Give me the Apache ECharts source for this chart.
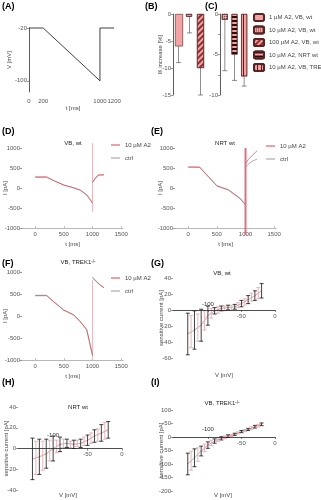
<!DOCTYPE html>
<html><head><meta charset="utf-8">
<script src="https://cdn.jsdelivr.net/npm/echarts@6/dist/echarts.min.js"></script>
<style>html,body{margin:0;padding:0;background:#fff}#c{width:321px;height:500px}</style>
</head><body><div id="c"></div>
<script>
// ---------- DATA ----------
// (A) voltage protocol
const rampT = [0, 200, 1000, 1000, 1200];
const rampV = [-20, -20, -100, -20, -20];
// (B) and (C) bar charts
const legendNames = ['1 µM A2, VB, wt', '10 µM A2, VB, wt', '100 µM A2, VB, wt', '10 µM A2, NRT wt', '10 µM A2, VB, TREK1-/-'];
const barB = [-6, -0.5, -10];
const barBErr = [3, 3, 5];
const barC = [-0.7, -5, -7.7];
const barCErr = [6.3, 3.2, 1.2];
// (D) VB wt traces
const tD = [0, 200, 320, 500, 640, 785, 900, 1000, 1000, 1000, 1050, 1100, 1200];
const drugD = [280, 280, 185, 75, 20, -50, -175, -380, null, 150, 250, 330, 330];
const ctrlD = [265, 265, 190, 70, 15, -55, -170, -370, null, 130, 235, 320, 325];
const spikeD = [1125, -600];
// (E) NRT wt traces
const tE = [0, 200, 350, 500, 700, 900, 1000, 1000, 1000, 1050, 1130, 1200];
const drugE = [530, 525, 285, 50, -50, -258, -425, null, 600, 720, 830, 930];
const ctrlE = [515, 515, 290, 60, -40, -250, -410, null, 520, 600, 680, 720];
const spikeE = [1000, -1175];
// (F) VB TREK1-/- traces
const tF = [0, 200, 320, 495, 670, 785, 900, 1000, 1000, 1000, 1035, 1134, 1200];
const drugF = [470, 470, 325, 136, 23, -129, -318, -900, null, 880, 834, 705, 640];
const ctrlF = [460, 460, 330, 140, 30, -120, -310, -880, null, 860, 820, 700, 650];
const spikeF = [820, -950];
// (G)(H)(I) I-V relations
const ivV = [-130, -120, -110, -100, -90, -80, -70, -60, -50, -40, -30, -20];
const ivV2 = [-125, -115, -105, -95, -85, -75, -65, -55, -45, -35, -25];
const gMean = [-30, -25, -19, -7, -1, 2, 3, 4, 8, 13, 18, 24];
const gErr = [26, 24, 20, 12, 4, 3, 3, 3, 4, 5, 6, 9];
const gMean2 = [-27, -22, -13, -4, 0, 2, 3, 6, 10, 16, 21];
const gErr2 = [20, 17, 12, 6, 4, 3, 3, 3, 4, 5, 7];
const hMean = [-10, -8, -5, 0, 4, 5, 4, 5, 8, 12, 15, 18];
const hErr = [20, 17, 14, 12, 7, 4, 4, 4, 5, 6, 8, 8];
const hMean2 = [-9, -7, -2, 2, 5, 4, 5, 7, 10, 13, 17];
const hErr2 = [16, 14, 10, 6, 4, 3, 3, 4, 5, 6, 8];
const iMean = [-100, -77, -52, -30, -15, -5, 3, 10, 20, 28, 38, 47];
const iErr = [40, 33, 18, 12, 8, 6, 5, 4, 4, 4, 5, 5];
const iMean2 = [-88, -65, -40, -22, -10, -1, 6, 15, 24, 33, 42];
const iErr2 = [35, 25, 14, 10, 7, 5, 4, 4, 4, 5, 5];
// tick labels
const ticksA_x = [0, 200, 1000, 1200];
const ticksA_y = [-20, -100];
const ticksB = [0, -5, -10, -15];
const ticksC = [0, -2.5, -5, -7.5, -10];
const ticksC_lab = [0, -5, -10];
const ticksTrace_x = [0, 500, 1000, 1500];
const ticksTrace_y = [-1000, -500, 0, 500, 1000];
const ticksIV_x = [-100, -50, 0];
const ticksIV_below = [-50, 0];
const ticksIV_above = [-100];
const ticksG_y = [-60, -40, -20, 0, 20, 40];
const ticksH_y = [-40, -20, 0, 20, 40];
const ticksI_y = [-200, -150, -100, -50, 0, 50, 100];

// ---------- CHART ----------
const FF = 'Liberation Sans, Arial, sans-serif';
const chart = echarts.init(document.getElementById('c'));
const zip = (xs, ys) => xs.map((x, i) => [x, ys[i] == null ? '-' : ys[i]]);
const zip3 = (xs, ys, es) => xs.map((x, i) => [x, ys[i], es[i]]);
const fmt = v => String(v);
const tickTS = { fontSize: 6, color: '#555', fontFamily: FF, formatter: fmt };
const nameTS = { fontSize: 6, color: '#444', fontFamily: FF };
const PINK = '#f2a3a3', DARK = '#5a2222';
const RED = '#d9474f', GRAY = '#9a9a9a';

const grids = [
  [29, 28, 88, 64], [173, 14, 33, 81], [220, 14, 29, 81],
  [22, 148, 101, 80], [175, 148, 101, 80], [22, 272, 101, 88],
  [173, 278, 102, 80], [18, 407, 104, 83], [173, 410, 102, 81]
];
// IV panels: grid index, x min, y min, y max, margin of the label above the zero line
const ivPanels = [[6, -152, -60, 40, 3], [7, -151, -40, 40, 10], [8, -152, -200, 100, 5]];
// helper grids whose shared edge is the zero line of each IV panel
ivPanels.forEach(p => {
  const g = grids[p[0]];
  const z = g[1] + g[3] * p[3] / (p[3] - p[2]);
  grids.push([g[0], g[1], g[2], z - g[1]]);
  grids.push([g[0], z, g[2], g[1] + g[3] - z]);
});

function yAx(g, min, max, ticks, labs, o) {
  o = o || {};
  return {
    type: 'value', gridIndex: g, min: min, max: max,
    splitLine: { show: false },
    axisLine: { show: !!o.line, onZero: false, lineStyle: { color: '#333', width: 0.8 } },
    axisTick: { show: true, length: 2, customValues: ticks, lineStyle: { color: '#555', width: 0.6 } },
    axisLabel: Object.assign({ customValues: labs || ticks, margin: 2 }, tickTS),
    name: o.name || '', nameLocation: 'middle', nameGap: o.gap || 12, nameMoveOverlap: false,
    nameTextStyle: Object.assign({}, nameTS, o.nameStyle || {})
  };
}
function xTrace(g) {
  return {
    type: 'value', gridIndex: g, min: -230, max: 1532,
    splitLine: { show: false },
    axisLine: { show: true, onZero: false, lineStyle: { color: '#999', width: 0.7 } },
    axisTick: { show: true, inside: true, length: 2, customValues: ticksTrace_x, lineStyle: { color: '#999', width: 0.6 } },
    axisLabel: Object.assign({ customValues: ticksTrace_x, margin: 3 }, tickTS),
    name: 't [ms]', nameLocation: 'middle', nameGap: 13, nameMoveOverlap: false, nameTextStyle: nameTS
  };
}
function xHidden(g, min, max) {
  return { type: 'value', gridIndex: g, min: min, max: max, show: false, splitLine: { show: false } };
}
function xZeroBelow(g, min) {
  return {
    type: 'value', gridIndex: g, min: min, max: 0, position: 'bottom', z: 10,
    splitLine: { show: false },
    axisLine: { show: true, onZero: false, lineStyle: { color: '#222', width: 0.8 } },
    axisTick: { show: true, length: 2, customValues: ticksIV_x, lineStyle: { color: '#333', width: 0.6 } },
    axisLabel: Object.assign({ customValues: ticksIV_below, margin: 3 }, tickTS)
  };
}
function xZeroAbove(g, min, m) {
  return {
    type: 'value', gridIndex: g, min: min, max: 0, position: 'top', z: 10,
    splitLine: { show: false },
    axisLine: { show: false, onZero: false }, axisTick: { show: false },
    axisLabel: Object.assign({ customValues: ticksIV_above, margin: m, hideOverlap: false }, tickTS, { color: '#333' })
  };
}
function errSeries(xi, yi, data, color, capW, oneSided, lw) {
  return {
    type: 'custom', xAxisIndex: xi, yAxisIndex: yi, data: data, z: 5, silent: true,
    renderItem: function (params, api) {
      const x = api.value(0), y = api.value(1), e = api.value(2);
      const p1 = api.coord([x, oneSided ? y : y + e]);
      const p2 = api.coord([x, y - e]);
      const st = { stroke: color, lineWidth: lw || 0.8 };
      const ch = [
        { type: 'line', shape: { x1: p1[0], y1: p1[1], x2: p2[0], y2: p2[1] }, style: st },
        { type: 'line', shape: { x1: p2[0] - capW, y1: p2[1], x2: p2[0] + capW, y2: p2[1] }, style: st }
      ];
      if (!oneSided) ch.push({ type: 'line', shape: { x1: p1[0] - capW, y1: p1[1], x2: p1[0] + capW, y2: p1[1] }, style: st });
      return { type: 'group', children: ch };
    }
  };
}
function lineS(name, xi, data, color, w, z) {
  return { type: 'line', name: name, xAxisIndex: xi, yAxisIndex: xi, data: data, symbol: 'none',
    lineStyle: { color: color, width: w }, itemStyle: { color: color }, z: z || 2, clip: false, silent: true };
}
const decals = [
  null,
  { symbol: 'rect', symbolSize: 1, dashArrayX: [1, 1], dashArrayY: [1, 1], color: 'rgba(70,15,15,0.7)' },
  { symbol: 'rect', symbolSize: 1, dashArrayX: [1, 0], dashArrayY: [1.2, 2], rotation: -Math.PI / 4, color: '#8b3030' },
  { symbol: 'rect', symbolSize: 1, dashArrayX: [1, 0], dashArrayY: [1.3, 1.7], rotation: 0, color: '#2a0a0a' },
  { symbol: 'rect', symbolSize: 1, dashArrayX: [1, 0], dashArrayY: [1, 2.4], rotation: Math.PI / 2, color: '#5a1a1a' }
];
function barS(nameIdx, xi, catIdx, val, w) {
  const d = ['-', '-', '-']; d[catIdx] = val;
  const st = { color: PINK, borderColor: DARK, borderWidth: 0.6 };
  if (decals[nameIdx]) st.decal = decals[nameIdx];
  return { type: 'bar', name: legendNames[nameIdx], xAxisIndex: xi, yAxisIndex: xi, data: d,
    barWidth: w || 6, barGap: '-100%', itemStyle: st, silent: true };
}
const sup = { fontSize: 4.5, verticalAlign: 'top', lineHeight: 6, padding: [0, 0, 3, 0], fontFamily: FF };
function txt(x, y, t, o) {
  o = o || {};
  return { type: 'text', x: x, y: y, silent: true,
    style: { text: t, fontSize: o.fs || 6, fontWeight: o.bold ? 'bold' : 'normal', fill: o.fill || '#222',
      fontFamily: FF, align: o.align || 'center', verticalAlign: o.va || 'middle',
      rich: { sup: Object.assign({}, sup, { fill: o.fill || '#222' }) } } };
}
const legTS = { fontSize: 6, color: '#444', fontFamily: FF, lineHeight: 8 };
const traceLeg = (l, t) => ({ data: ['10 µM A2', 'ctrl'], left: l, top: t, orient: 'vertical',
  icon: 'rect', itemWidth: 9, itemHeight: 1, itemGap: 5, selectedMode: false, padding: 0, textStyle: legTS });

const xAxes = [
  { type: 'value', gridIndex: 0, min: 0, max: 1240, splitLine: { show: false },
    axisLine: { show: false, onZero: false }, axisTick: { show: false },
    axisLabel: Object.assign({ customValues: ticksA_x, margin: 6 }, tickTS),
    name: 't [ms]', nameLocation: 'middle', nameGap: 13, nameMoveOverlap: false, nameTextStyle: nameTS },
  { type: 'category', gridIndex: 1, data: ['a', 'b', 'c'], show: false },
  { type: 'category', gridIndex: 2, data: ['a', 'b', 'c'], show: false },
  xTrace(3), xTrace(4), xTrace(5),
  xHidden(6, -152, 0), xHidden(7, -151, 0), xHidden(8, -152, 0)
];
const yAxes = [
  yAx(0, -117, -20, ticksA_y, null, { line: true, name: 'V [mV]', gap: 17 }),
  yAx(1, -15, 0, ticksB, null, { line: true, name: 'I{sub|K} increase [%]', gap: 10,
    nameStyle: { rich: { sub: { fontSize: 4.5, verticalAlign: 'bottom', fontFamily: FF, color: '#444' } } } }),
  yAx(2, -10, 0, ticksC, ticksC_lab, { line: true }),
  yAx(3, -1000, 1000, ticksTrace_y, null, { name: 'I [pA]', gap: 14 }),
  yAx(4, -1000, 1000, ticksTrace_y, null, { name: 'I [pA]', gap: 12 }),
  yAx(5, -1000, 1000, ticksTrace_y, null, { name: 'I [pA]', gap: 14 }),
  yAx(6, -60, 40, ticksG_y, null, { name: 'sensitive current [pA]', gap: 9 }),
  yAx(7, -40, 40, ticksH_y, null, { name: 'sensitive current [pA]', gap: 9 }),
  yAx(8, -200, 100, ticksI_y, null, { name: 'sensitive current [pA]', gap: 9 })
];
ivPanels.forEach((p, k) => {
  const gu = 9 + 2 * k, gl = 10 + 2 * k;
  xAxes.push(xZeroBelow(gu, p[1]));
  xAxes.push(xZeroAbove(gl, p[1], p[4]));
  yAxes.push({ type: 'value', gridIndex: gu, min: 0, max: 1, show: false, splitLine: { show: false } });
  yAxes.push({ type: 'value', gridIndex: gl, min: 0, max: 1, show: false, splitLine: { show: false } });
});

const option = {
  animation: false,
  grid: grids.map(g => ({ left: g[0], top: g[1], width: g[2], height: g[3], containLabel: false, outerBoundsMode: 'none' })),
  xAxis: xAxes,
  yAxis: yAxes,
  legend: [
    { data: legendNames, left: 253, top: 13, orient: 'vertical', itemWidth: 10, itemHeight: 7, itemGap: 3.5,
      selectedMode: false, padding: 0, textStyle: Object.assign({}, legTS, { rich: { sup: { fontSize: 4.5, verticalAlign: 'top', fontFamily: FF, color: '#444' } } }),
      formatter: n => n.replace('-/-', '{sup|-/-}') },
    traceLeg(111, 141), traceLeg(266, 142), traceLeg(111, 274)
  ],
  series: [
    lineS('', 0, zip(rampT, rampV), '#111', 0.8),
    barS(0, 1, 0, barB[0], 8), barS(1, 1, 1, barB[1], 6), barS(2, 1, 2, barB[2], 7),
    errSeries(1, 1, barB.map((v, i) => [i, v, barBErr[i]]), '#444', 2.5, true, 0.6),
    barS(1, 2, 0, barC[0], 6), barS(3, 2, 1, barC[1], 6), barS(4, 2, 2, barC[2], 6),
    errSeries(2, 2, barC.map((v, i) => [i, v, barCErr[i]]), '#444', 2.5, true, 0.6),
    // traces
    lineS('ctrl', 3, zip(tD, ctrlD), GRAY, 0.8, 2), lineS('10 µM A2', 3, zip(tD, drugD), RED, 0.7, 3),
    lineS('', 3, [[1000, spikeD[0]], [1000, spikeD[1]]], '#eaa6ae', 0.8, 1),
    lineS('ctrl', 4, zip(tE, ctrlE), GRAY, 0.8, 2), lineS('10 µM A2', 4, zip(tE, drugE), RED, 0.7, 3),
    lineS('', 4, [[1000, spikeE[0]], [1000, spikeE[1]]], '#e0707e', 2, 4),
    lineS('ctrl', 5, zip(tF, ctrlF), GRAY, 0.8, 2), lineS('10 µM A2', 5, zip(tF, drugF), RED, 0.7, 3),
    lineS('', 5, [[1000, spikeF[0]], [1000, spikeF[1]]], '#eaa6ae', 0.8, 1),
    // IV
    lineS('', 6, zip(ivV, gMean), '#d9a0a4', 1, 2),
    errSeries(6, 6, zip3(ivV2, gMean2, gErr2), '#e2a5ab', 2, false, 0.8),
    errSeries(6, 6, zip3(ivV, gMean, gErr), '#111', 2, false, 0.8),
    lineS('', 7, zip(ivV, hMean), '#d9a0a4', 1, 2),
    errSeries(7, 7, zip3(ivV2, hMean2, hErr2), '#e2a5ab', 2, false, 0.8),
    errSeries(7, 7, zip3(ivV, hMean, hErr), '#111', 2, false, 0.8),
    lineS('', 8, zip(ivV, iMean), '#d9a0a4', 1, 2),
    errSeries(8, 8, zip3(ivV2, iMean2, iErr2), '#e2a5ab', 2, false, 0.8),
    errSeries(8, 8, zip3(ivV, iMean, iErr), '#111', 2, false, 0.8)
  ],
  graphic: [
    txt(2, 2, '(A)', { fs: 9, bold: true, align: 'left', va: 'top', fill: '#000' }),
    txt(145, 2, '(B)', { fs: 9, bold: true, align: 'left', va: 'top', fill: '#000' }),
    txt(205, 2, '(C)', { fs: 9, bold: true, align: 'left', va: 'top', fill: '#000' }),
    txt(2, 127, '(D)', { fs: 9, bold: true, align: 'left', va: 'top', fill: '#000' }),
    txt(151, 127, '(E)', { fs: 9, bold: true, align: 'left', va: 'top', fill: '#000' }),
    txt(2, 259, '(F)', { fs: 9, bold: true, align: 'left', va: 'top', fill: '#000' }),
    txt(151, 259, '(G)', { fs: 9, bold: true, align: 'left', va: 'top', fill: '#000' }),
    txt(2, 378, '(H)', { fs: 9, bold: true, align: 'left', va: 'top', fill: '#000' }),
    txt(151, 378, '(I)', { fs: 9, bold: true, align: 'left', va: 'top', fill: '#000' }),
    txt(73, 143, 'VB, wt'),
    txt(225, 143, 'NRT wt'),
    txt(78, 262, 'VB, TREK1{sup|-/-}'),
    txt(222, 273, 'VB, wt'),
    txt(78, 407, 'NRT wt'),
    txt(222, 403, 'VB, TREK1{sup|-/-}'),
    txt(224, 375, 'V [mV]', { fill: '#444' }),
    txt(68, 495, 'V [mV]', { fill: '#444' }),
    txt(223, 495, 'V [mV]', { fill: '#444' })
  ]
};
chart.setOption(option);
</script>
</body></html>
